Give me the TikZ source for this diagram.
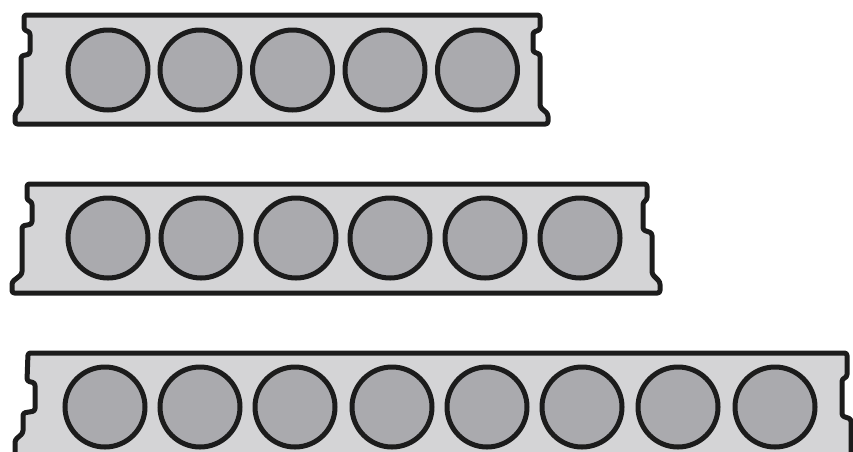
\documentclass[tikz,border=0pt]{standalone}
\definecolor{slabfill}{RGB}{212,212,214}
\definecolor{corefill}{RGB}{170,170,174}
\definecolor{edge}{RGB}{28,28,28}
\tikzset{
  slab/.style={draw=edge, fill=slabfill, line width=5pt, line join=round, rounded corners=2.5pt},
  core/.style={draw=edge, fill=corefill, line width=5pt},
}
\begin{document}
\begin{tikzpicture}[x=1pt,y=-1pt]
\useasboundingbox (0,0) rectangle (853,451);
\clip (0,0) rectangle (853,451);
% slab 1
\draw[slab] (24,15) -- (540,15) -- (540,30) -- (533,32) -- (533,52) -- (540,54) -- (540,107) -- (548,114) -- (548,124) -- (15,124) -- (15,114) -- (21,107) -- (21,56) -- (30,54) -- (30,32) -- (24,30) -- cycle;
\foreach \x in {108,200,292.5,385,477.5}
  \draw[core] (\x,70) circle (40);
% slab 2
\draw[slab] (27,184) -- (647,184) -- (647,200) -- (643,202) -- (643,230) -- (652,233) -- (652,274) -- (660,282) -- (660,293) -- (12,293) -- (12,282) -- (22,274) -- (22,226) -- (32,224) -- (32,202) -- (27,200) -- cycle;
\foreach \x in {108,201,296,390,485,580}
  \draw[core] (\x,238) circle (40);
% slab 3
\draw[slab] (28,353) -- (847,353) -- (847,377) -- (842,379) -- (842,416) -- (851,419) -- (851,470) -- (15,470) -- (15,440) -- (23,433) -- (23,413) -- (35,411) -- (35,383) -- (27,381) -- cycle;
\foreach \x in {105,200,295,392,487,582,678,775}
  \draw[core] (\x,407) circle (40);
\end{tikzpicture}
\end{document}
